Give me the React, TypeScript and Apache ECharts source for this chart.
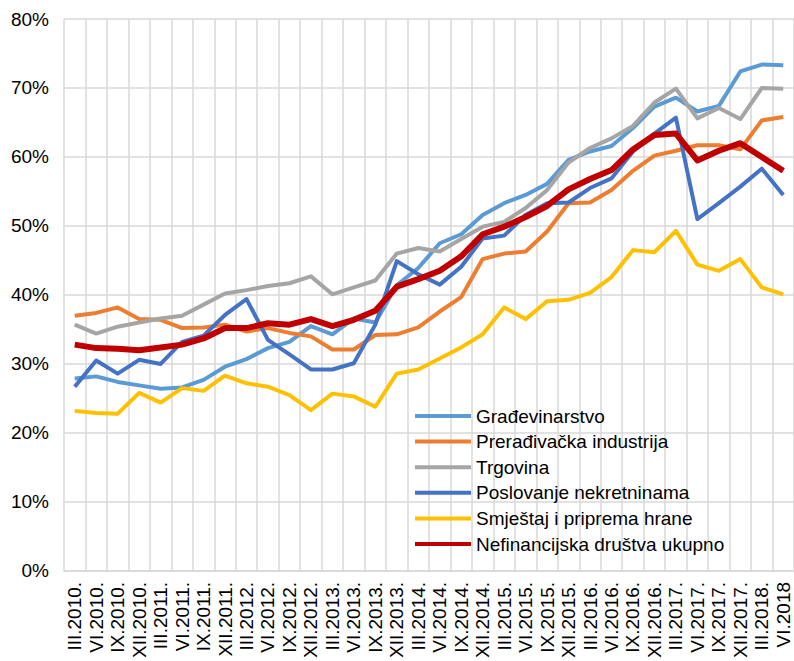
import React, { useEffect, useRef } from "react";
import * as echarts from "echarts";

const categories = [
  "III.2010.", "VI.2010.", "IX.2010.", "XII.2010.",
  "III.2011.", "VI.2011.", "IX.2011.", "XII.2011.",
  "III.2012.", "VI.2012.", "IX.2012.", "XII.2012.",
  "III.2013.", "VI.2013.", "IX.2013.", "XII.2013.",
  "III.2014.", "VI.2014.", "IX.2014.", "XII.2014.",
  "III.2015.", "VI.2015.", "IX.2015.", "XII.2015.",
  "III.2016.", "VI.2016.", "IX.2016.", "XII.2016.",
  "III.2017.", "VI.2017.", "IX.2017.", "XII.2017.",
  "III.2018.", "VI.2018",
];

const gradjevinarstvo = [
  27.9, 28.2, 27.4, 26.9, 26.4, 26.6, 27.7, 29.6, 30.7, 32.3, 33.2, 35.5,
  34.3, 36.6, 36.0, 41.4, 43.9, 47.5, 48.8, 51.6, 53.3, 54.5, 56.1, 59.6,
  60.8, 61.6, 64.2, 67.3, 68.6, 66.6, 67.4, 72.4, 73.4, 73.3,
];
const preradjivacka = [
  37.0, 37.4, 38.2, 36.5, 36.4, 35.2, 35.3, 35.7, 34.7, 35.2, 34.5, 34.0,
  32.1, 32.1, 34.2, 34.3, 35.3, 37.6, 39.7, 45.2, 46.0, 46.3, 49.2, 53.3,
  53.4, 55.2, 58.0, 60.2, 60.9, 61.7, 61.7, 61.1, 65.3, 65.8,
];
const trgovina = [
  35.7, 34.4, 35.4, 36.0, 36.6, 37.0, 38.6, 40.2, 40.7, 41.3, 41.7, 42.7,
  40.1, 41.1, 42.1, 46.0, 46.8, 46.3, 48.1, 49.9, 50.6, 52.6, 55.2, 59.2,
  61.3, 62.7, 64.5, 67.9, 69.9, 65.6, 67.1, 65.5, 70.0, 69.9,
];
const poslovanje = [
  26.7, 30.5, 28.6, 30.6, 30.0, 33.2, 34.1, 37.1, 39.4, 33.5, 31.4, 29.2,
  29.2, 30.1, 35.7, 44.9, 43.0, 41.5, 44.1, 48.2, 48.6, 51.6, 53.3, 53.4,
  55.5, 56.9, 60.8, 63.4, 65.7, 51.0, 53.3, 55.7, 58.3, 54.5,
];
const smjestaj = [
  23.2, 22.9, 22.8, 25.8, 24.4, 26.5, 26.1, 28.3, 27.2, 26.7, 25.5, 23.3,
  25.7, 25.3, 23.8, 28.6, 29.2, 30.8, 32.4, 34.3, 38.2, 36.5, 39.1, 39.3,
  40.3, 42.6, 46.5, 46.2, 49.3, 44.4, 43.5, 45.2, 41.1, 40.1,
];
const ukupno = [
  32.8, 32.3, 32.2, 32.0, 32.4, 32.8, 33.7, 35.2, 35.2, 35.9, 35.7, 36.5,
  35.5, 36.4, 37.7, 41.2, 42.3, 43.5, 45.6, 48.8, 49.9, 51.3, 52.9, 55.3,
  56.8, 58.1, 61.1, 63.2, 63.4, 59.5, 60.9, 62.0, 60.0, 58.0,
];

const seriesDefs = [
  { name: "Građevinarstvo", data: gradjevinarstvo, color: "#5B9BD5", width: 4 },
  { name: "Prerađivačka industrija", data: preradjivacka, color: "#ED7D31", width: 4 },
  { name: "Trgovina", data: trgovina, color: "#A5A5A5", width: 4 },
  { name: "Poslovanje nekretninama", data: poslovanje, color: "#4472C4", width: 4 },
  { name: "Smještaj i priprema hrane", data: smjestaj, color: "#FFC000", width: 4 },
  { name: "Nefinancijska društva ukupno", data: ukupno, color: "#C00000", width: 6 },
];

const FONT = "'Liberation Sans', Arial, sans-serif";

export default function App() {
  const ref = useRef<HTMLDivElement>(null);
  useEffect(() => {
    document.body.style.margin = "0";
    if (!ref.current) return;
    const chart = echarts.init(ref.current, null, { renderer: "svg" });
    chart.setOption({
      animation: false,
      backgroundColor: "#ffffff",
      textStyle: { fontFamily: FONT },
      grid: { left: 64, top: 19, width: 737, height: 552, containLabel: false },
      legend: {
        orient: "vertical",
        left: 410,
        top: 401,
        itemWidth: 56,
        itemHeight: 4,
        itemGap: 5.6,
        icon: "rect",
        textStyle: { fontSize: 19, color: "#000", fontFamily: FONT, lineHeight: 20 },
        data: seriesDefs.map((s) => s.name),
      },
      xAxis: {
        type: "category",
        data: categories,
        boundaryGap: true,
        axisLine: { show: true, lineStyle: { color: "#D9D9D9", width: 1.5 } },
        axisTick: { show: false },
        splitLine: { show: true, interval: 0, lineStyle: { color: "#D9D9D9", width: 1.5 } },
        axisLabel: {
          interval: 0,
          rotate: 90,
          margin: 11,
          fontSize: 19,
          color: "#000",
          fontFamily: FONT,
        },
      },
      yAxis: {
        type: "value",
        min: 0,
        max: 80,
        interval: 10,
        axisLine: { show: false },
        axisTick: { show: false },
        splitLine: { show: true, lineStyle: { color: "#D9D9D9", width: 1.5 } },
        axisLabel: {
          formatter: "{value}%",
          margin: 15,
          fontSize: 19,
          color: "#000",
          fontFamily: FONT,
        },
      },
      series: seriesDefs.map((s) => ({
        name: s.name,
        type: "line",
        data: s.data,
        symbol: "none",
        showSymbol: false,
        color: s.color,
        itemStyle: { color: s.color },
        lineStyle: { color: s.color, width: s.width, join: "round" },
        clip: false,
      })),
    });
    return () => chart.dispose();
  }, []);
  return (
    <div
      ref={ref}
      style={{ width: 794, height: 661, position: "absolute", left: 0, top: 0 }}
    />
  );
}
